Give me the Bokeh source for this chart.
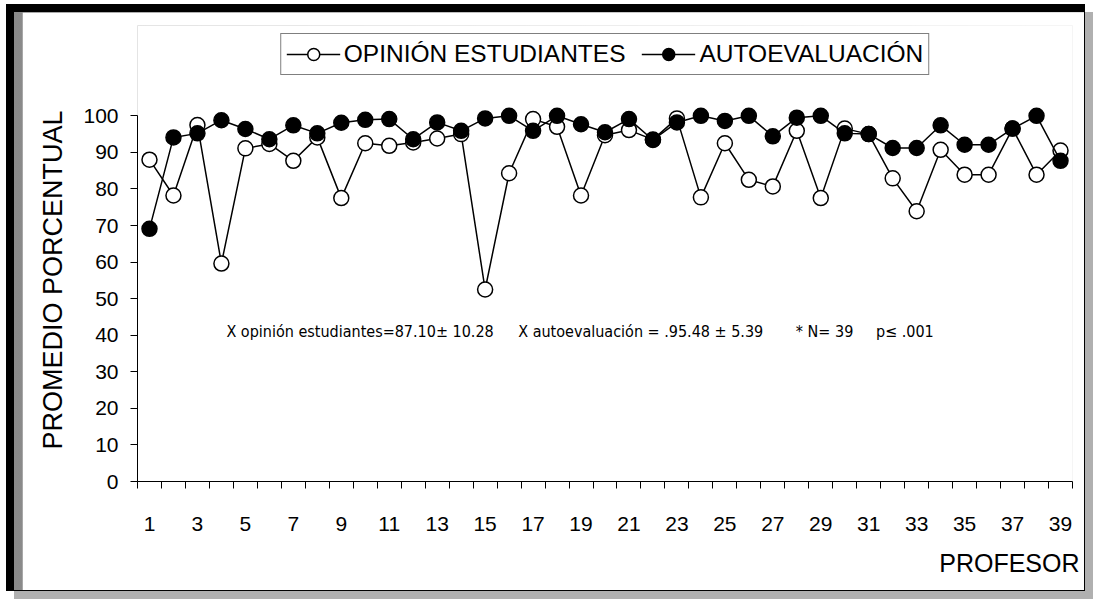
from bokeh.plotting import figure
from bokeh.layouts import column
from bokeh.models import (FixedTicker, Legend, LegendItem, Label, Title, Range1d)
from bokeh.embed import file_html
from bokeh.resources import INLINE

# ---------------- data ----------------
profesores = list(range(1, 40))
opinion_estudiantes = [88.0, 78.2, 97.5, 59.6, 91.1, 92.3, 87.7, 94.1, 77.5, 92.5,
                       91.8, 92.7, 93.8, 95.0, 52.5, 84.3, 99.1, 97.0, 78.2, 94.7,
                       96.1, 93.5, 99.3, 77.7, 92.5, 82.5, 80.7, 95.9, 77.5, 96.5,
                       95.0, 82.9, 73.9, 90.7, 83.9, 83.9, 96.5, 83.9, 90.5]
autoevaluacion = [69.1, 94.1, 95.2, 98.8, 96.4, 93.6, 97.4, 95.2, 98.1, 98.9,
                  99.1, 93.6, 98.2, 95.9, 99.3, 100.0, 95.9, 100.0, 97.7, 95.5,
                  99.1, 93.4, 98.2, 100.0, 98.6, 100.0, 94.4, 99.5, 100.0, 95.2,
                  95.0, 91.2, 91.2, 97.4, 92.1, 92.1, 96.5, 100.0, 87.7]
y_ticks = list(range(0, 101, 10))
x_label_ticks = list(range(1, 40, 2))
x_boundaries = [c - 0.5 for c in profesores] + [profesores[-1] + 0.5]
serie_labels = ["OPINIÓN ESTUDIANTES", "AUTOEVALUACIÓN"]
stats_texts = ["X opinión estudiantes=87.10± 10.28",
               "X autoevaluación =  .95.48 ± 5.39",
               "* N= 39",
               "p≤ .001"]

FONT = "Liberation Sans"
NARROW = "DejaVu Sans Condensed"

p = figure(width=1062, height=578, output_backend="svg", toolbar_location=None,
           title=None,
           x_range=Range1d(0.5, 39.5), y_range=Range1d(0, 124.7),
           min_border_left=114, min_border_right=12, min_border_top=13,
           min_border_bottom=108)
p.background_fill_color = "white"
p.border_fill_color = "white"
p.outline_line_color = None
p.xgrid.visible = False
p.ygrid.visible = False

# y axis
ya = p.yaxis[0]
ya.ticker = FixedTicker(ticks=y_ticks)
ya.bounds = (0, 100)
ya.major_tick_out = 7
ya.major_tick_in = 0
ya.minor_tick_out = 0
ya.minor_tick_in = 0
ya.major_label_standoff = 12
ya.major_label_text_font = FONT
ya.major_label_text_font_size = "21px"
ya.major_label_text_color = "black"
ya.axis_line_color = "black"
ya.major_tick_line_color = "black"

p.add_layout(Title(text="PROMEDIO PORCENTUAL", align="left", offset=32,
                   text_font=FONT, text_font_size="27px",
                   text_font_style="normal", text_color="black",
                   standoff=26), "left")

# x axis
xa = p.xaxis[0]
xa.ticker = FixedTicker(ticks=x_label_ticks, minor_ticks=x_boundaries)
xa.major_tick_out = 0
xa.major_tick_in = 0
xa.minor_tick_out = 7
xa.minor_tick_in = 0
xa.minor_tick_line_color = "black"
xa.major_label_standoff = 28
xa.major_label_text_font = FONT
xa.major_label_text_font_size = "21px"
xa.major_label_text_color = "black"
xa.axis_line_color = "black"

# series
l1 = p.line(profesores, opinion_estudiantes, line_color="black", line_width=1.5)
s1 = p.scatter(profesores, opinion_estudiantes, marker="circle", size=15,
               fill_color="white", line_color="black", line_width=1.5)
l2 = p.line(profesores, autoevaluacion, line_color="black", line_width=1.5)
s2 = p.scatter(profesores, autoevaluacion, marker="circle", size=15,
               fill_color="black", line_color="black", line_width=1.5)

legend = Legend(items=[LegendItem(label=serie_labels[0], renderers=[l1, s1]),
                       LegendItem(label=serie_labels[1], renderers=[l2, s2])],
                orientation="horizontal", location="top_center", margin=8,
                padding=5, spacing=16, glyph_width=54, glyph_height=30,
                label_standoff=4, label_text_font=FONT,
                label_text_font_size="24.5px", label_text_color="black",
                border_line_color="black", border_line_width=1,
                background_fill_color="white", background_fill_alpha=1)
p.add_layout(legend)

# statistics annotation
for xpos, txt in zip([4.21, 16.38, 27.96, 31.3], stats_texts):
    p.add_layout(Label(x=xpos, y=41.1, text=txt, text_baseline="middle",
                       text_align="left", text_font=NARROW,
                       text_font_size="16px", text_color="black"))

p.add_layout(Title(text="PROFESOR", align="right", offset=-7, text_font=FONT,
                   text_font_size="25px", text_font_style="normal",
                   text_color="black", standoff=27), "below")

layout = column(p, styles={
    "margin-left": "6px", "margin-top": "4px",
    "border-left": "8px solid black", "border-top": "8px solid black",
    "border-right": "1.5px solid black", "border-bottom": "1.5px solid black",
    "padding-left": "8px",
    "background": "linear-gradient(to right, #8a8a8a, #d8d8d8)",
    "box-shadow": "8px 8px 0 0 #b0b0b0",
})

open("out.html", "w").write(file_html(layout, INLINE))
